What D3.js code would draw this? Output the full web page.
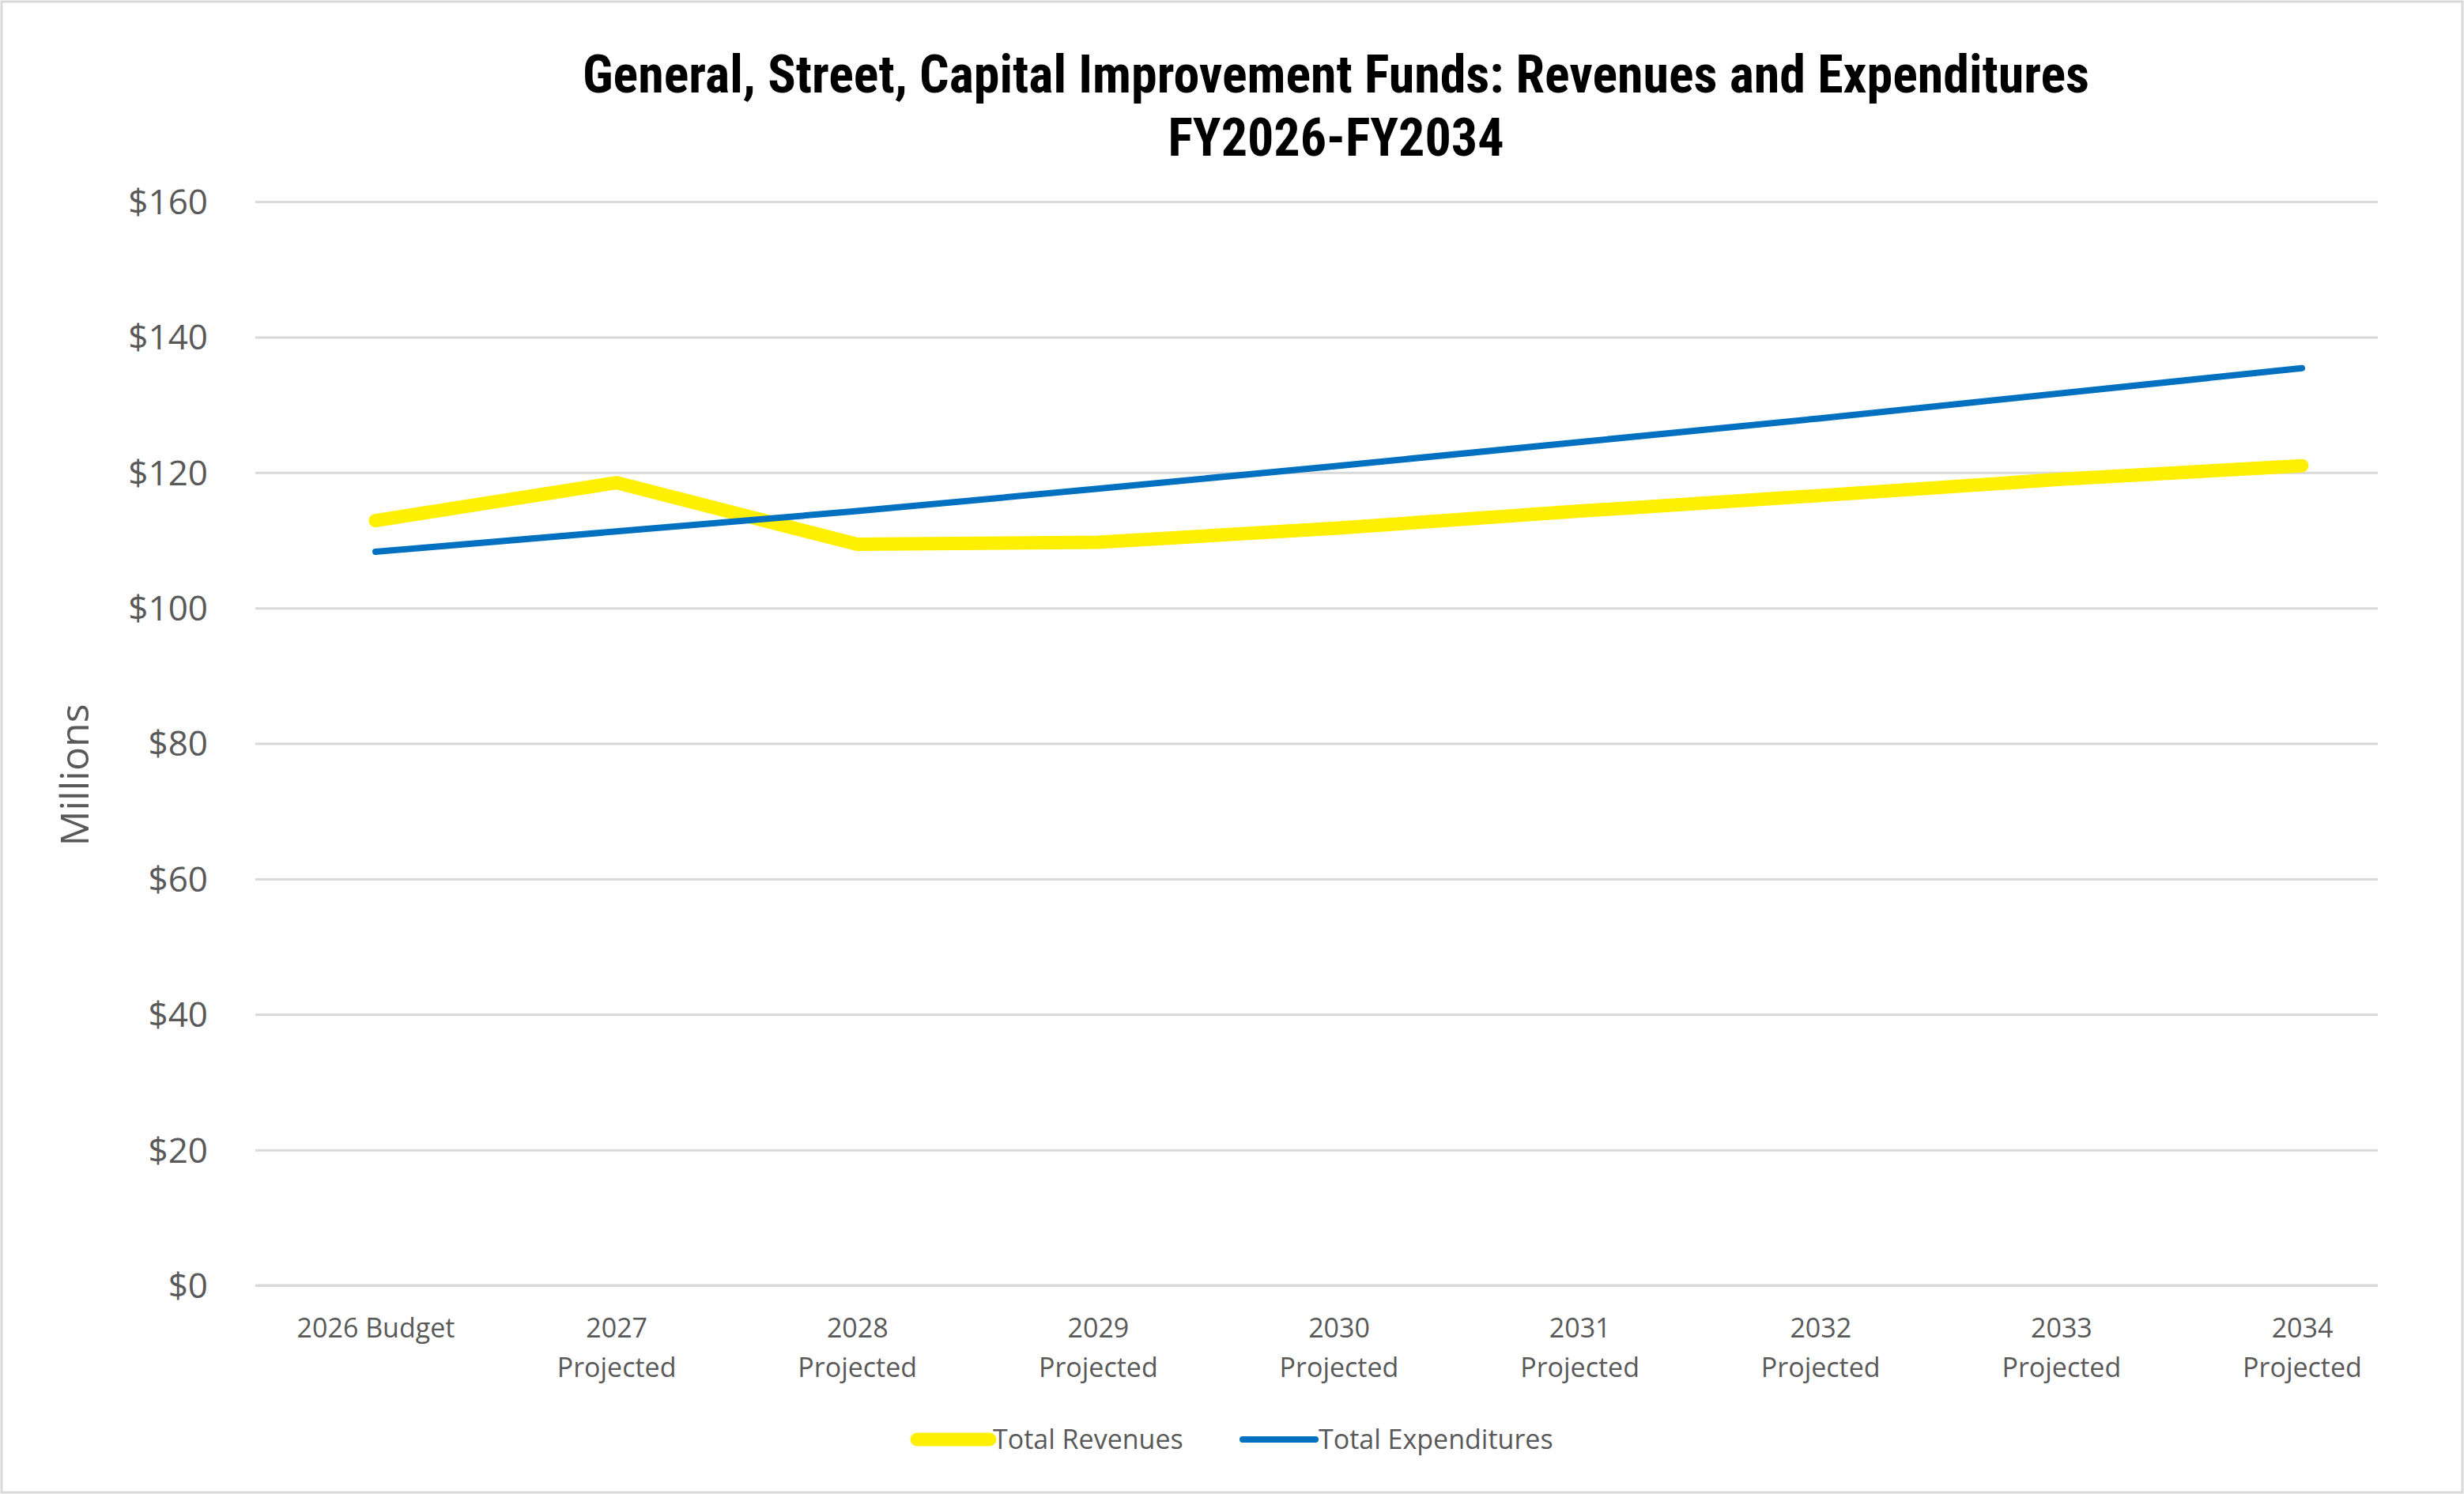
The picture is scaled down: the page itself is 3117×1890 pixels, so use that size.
<!DOCTYPE html>
<html><head><meta charset="utf-8">
<script src="https://cdn.jsdelivr.net/npm/d3@7"></script>
<style>body{margin:0;background:#fff}</style></head>
<body><svg id="c" width="3117" height="1890"></svg>
<script>
const categories = [["2026 Budget"],["2027","Projected"],["2028","Projected"],["2029","Projected"],["2030","Projected"],["2031","Projected"],["2032","Projected"],["2033","Projected"],["2034","Projected"]];
const revenues = [112.9,118.5,109.4,109.7,111.8,114.3,116.6,119.0,121.0];
const expenditures = [108.3,111.3,114.3,117.6,121.0,124.5,128.0,131.7,135.4];
const yTicks = [0,20,40,60,80,100,120,140,160];

const svg = d3.select("#c");
const tfont = "'Liberation Sans Narrow','Roboto Condensed','Liberation Sans',sans-serif";
const font = "'Open Sans','Liberation Sans',sans-serif";
svg.append("rect").attr("x",2).attr("y",2).attr("width",3113).attr("height",1886).attr("fill","#fff").attr("stroke","#d9d9d9").attr("stroke-width",3);

const L=323,R=3008,T=255,B=1626;
const x = d3.scalePoint().domain(d3.range(categories.length)).range([475,2912]).padding(0);
const y = d3.scaleLinear().domain([0,160]).range([B,T]);

svg.append("text").attr("x",1690).attr("y",117).attr("text-anchor","middle").attr("font-family",tfont).attr("font-weight","bold").attr("font-size",66).text("General, Street, Capital Improvement Funds: Revenues and Expenditures");
svg.append("text").attr("x",1690).attr("y",197).attr("text-anchor","middle").attr("font-family",tfont).attr("font-weight","bold").attr("font-size",66).text("FY2026-FY2034");

const ya = svg.append("g").attr("transform",`translate(${L},0)`).call(d3.axisLeft(y).tickValues(yTicks).tickSize(-(R-L)).tickFormat(d=>"$"+d));
ya.select(".domain").remove();
ya.selectAll("line").attr("stroke","#d9d9d9").attr("stroke-width",3);
ya.selectAll("text").attr("font-family",font).attr("font-size",44).attr("fill","#595959").attr("x",-60).attr("dy","0.35em");

const xa = svg.append("g").attr("transform",`translate(0,${B})`).call(d3.axisBottom(x).tickSize(0).tickFormat(""));
xa.select(".domain").attr("stroke","#d9d9d9").attr("stroke-width",3).attr("d",`M${L-x(0)},0H${R-x(0)}`);
xa.select(".domain").attr("d",`M${L},0H${R}`);
xa.selectAll(".tick").each(function(d){
  const t=d3.select(this).append("text").attr("font-family",font).attr("font-size",34).attr("fill","#595959").attr("text-anchor","middle");
  categories[d].forEach((s,i)=>t.append("tspan").attr("x",0).attr("y",66+i*50).text(s));
});

svg.append("text").attr("transform",`translate(112,${(T+B)/2+40}) rotate(-90)`).attr("text-anchor","middle").attr("font-family",font).attr("font-size",50).attr("fill","#595959").text("Millions");

const line = d3.line().x((d,i)=>x(i)).y(d=>y(d));
svg.append("path").datum(revenues).attr("d",line).attr("fill","none").attr("stroke","#ffef00").attr("stroke-width",17).attr("stroke-linecap","round").attr("stroke-linejoin","round");
svg.append("path").datum(expenditures).attr("d",line).attr("fill","none").attr("stroke","#0070c0").attr("stroke-width",8).attr("stroke-linecap","round").attr("stroke-linejoin","round");

const leg=[["Total Revenues","#ffef00",17,1160],["Total Expenditures","#0070c0",8,1572]];
leg.forEach(([t,c,w,lx])=>{
  svg.append("line").attr("x1",lx).attr("x2",lx+92).attr("y1",1821).attr("y2",1821).attr("stroke",c).attr("stroke-width",w).attr("stroke-linecap","round");
  svg.append("text").attr("x",lx+96).attr("y",1833).attr("font-family",font).attr("font-size",34).attr("fill","#595959").text(t);
});
</script></body></html>
